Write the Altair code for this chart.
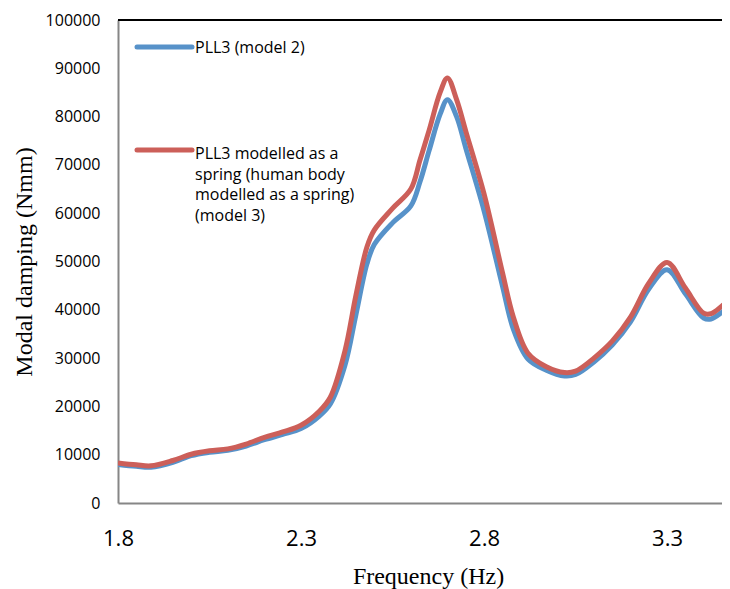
import altair as alt
import pandas as pd

# ---- data ----
freq = [1.80, 1.85, 1.89, 1.95, 2.00, 2.05, 2.10, 2.15, 2.20, 2.25, 2.30, 2.35,
        2.38, 2.42, 2.45, 2.48, 2.50, 2.55, 2.60, 2.625, 2.65, 2.68, 2.70, 2.725,
        2.75, 2.80, 2.85, 2.88, 2.92, 2.97, 3.02, 3.05, 3.10, 3.15, 3.20, 3.25,
        3.30, 3.35, 3.40, 3.42, 3.45, 3.47]

model2 = [8000, 7600, 7400, 8400, 9800, 10500, 10900, 11800, 13100, 14200, 15400, 18000,
          20500, 28500, 39000, 49500, 53500, 58000, 61500, 66500, 73000, 80500, 83500, 80000,
          73500, 60500, 45000, 36000, 29800, 27500, 26300, 26600, 29200, 32700, 37500, 44300,
          48300, 43300, 38300, 38100, 39500, 40800]

model3 = [8300, 7900, 7700, 8800, 10100, 10800, 11200, 12200, 13600, 14700, 16100, 19000,
          21900, 31500, 43000, 53000, 56500, 61000, 65000, 71000, 77200, 85000, 88000, 83500,
          77000, 64000, 47800, 38500, 31000, 28200, 27000, 27300, 30000, 33500, 38500, 45500,
          49800, 44500, 39300, 39200, 40800, 42000]

series_names = ["PLL3 (model 2)",
                "PLL3 modelled as a spring (human body modelled as a spring) (model 3)"]
legend_lines = [["PLL3 (model 2)"],
                ["\u00a0PLL3 modelled as a", "spring (human body", "modelled as a spring)", "(model 3)"]]

x_ticks = [1.8, 2.3, 2.8, 3.3]
y_ticks = list(range(0, 100001, 10000))

x_title = "Frequency (Hz)"
y_title = "Modal damping  (Nmm)"

colors = ["#5792c9", "#cc5f59"]

# ---- tables ----
df = pd.DataFrame({
    "freq": freq * 2,
    "value": model2 + model3,
    "series": [series_names[0]] * len(freq) + [series_names[1]] * len(freq),
})
legend_df = pd.DataFrame({
    "series": series_names,
    "label": ["\n".join(l) for l in legend_lines],
})

W, H = 604, 483

x_enc = alt.X("freq:Q",
              scale=alt.Scale(domain=[1.8, 3.45], nice=False, zero=False),
              axis=alt.Axis(values=x_ticks, format=".1f", title=x_title,
                            labelFont="Open Sans", labelFontSize=22, labelPadding=25,
                            labelFlush=False,
                            titleFont="Liberation Serif", titleFontSize=24,
                            titleFontWeight="normal", titleX=310, titleY=80,
                            titleAlign="center", titleBaseline="alphabetic"))
y_enc = alt.Y("value:Q",
              scale=alt.Scale(domain=[0, 100000], nice=False),
              axis=alt.Axis(values=y_ticks, format="d", title=y_title,
                            labelFont="Open Sans", labelFontSize=16, labelPadding=18,
                            titleFont="Liberation Serif", titleFontSize=24,
                            titleFontWeight="normal", titleX=-94, titleY=241.5,
                            titleAngle=270, titleAlign="center", titleBaseline="middle"))

base = alt.Chart(df)
lines = []
for name, col in zip(series_names, colors):
    lines.append(
        base.transform_filter(alt.datum.series == name)
        .mark_line(interpolate="catmull-rom", strokeWidth=5, color=col, clip=True)
        .encode(x=x_enc, y=y_enc)
    )

top_border = alt.Chart(legend_df).transform_filter(
    alt.datum.series == series_names[0]).mark_rule(color="black", strokeWidth=2).encode(
    x=alt.value(0), x2=alt.value(W), y=alt.value(0))

legend_layers = []
sym_y = [27, 130]
txt_y = [20, 126]
for name, col, sy, ty in zip(series_names, colors, sym_y, txt_y):
    sub = alt.Chart(legend_df).transform_filter(alt.datum.series == name)
    legend_layers.append(
        sub.mark_rule(strokeWidth=5, strokeCap="round", color=col)
        .encode(x=alt.value(19), x2=alt.value(74), y=alt.value(sy)))
    legend_layers.append(
        sub.mark_text(align="left", baseline="top", lineBreak="\n", lineHeight=20.5,
                      font="Open Sans", fontSize=16, color="black")
        .encode(text="label:N", x=alt.value(77), y=alt.value(ty)))

chart = alt.layer(*lines, top_border, *legend_layers).properties(
    width=W, height=H,
    autosize=alt.AutoSizeParams(type="none"),
    padding={"left": 110, "top": 12, "right": 0, "bottom": 86},
).configure_view(stroke=None).configure_axis(
    domainColor="#868686", domainWidth=2, ticks=False, tickSize=0, grid=False,
    labelColor="black", titleColor="black",
)

chart.save("out.html", embed_options={"renderer": "svg", "actions": False})
